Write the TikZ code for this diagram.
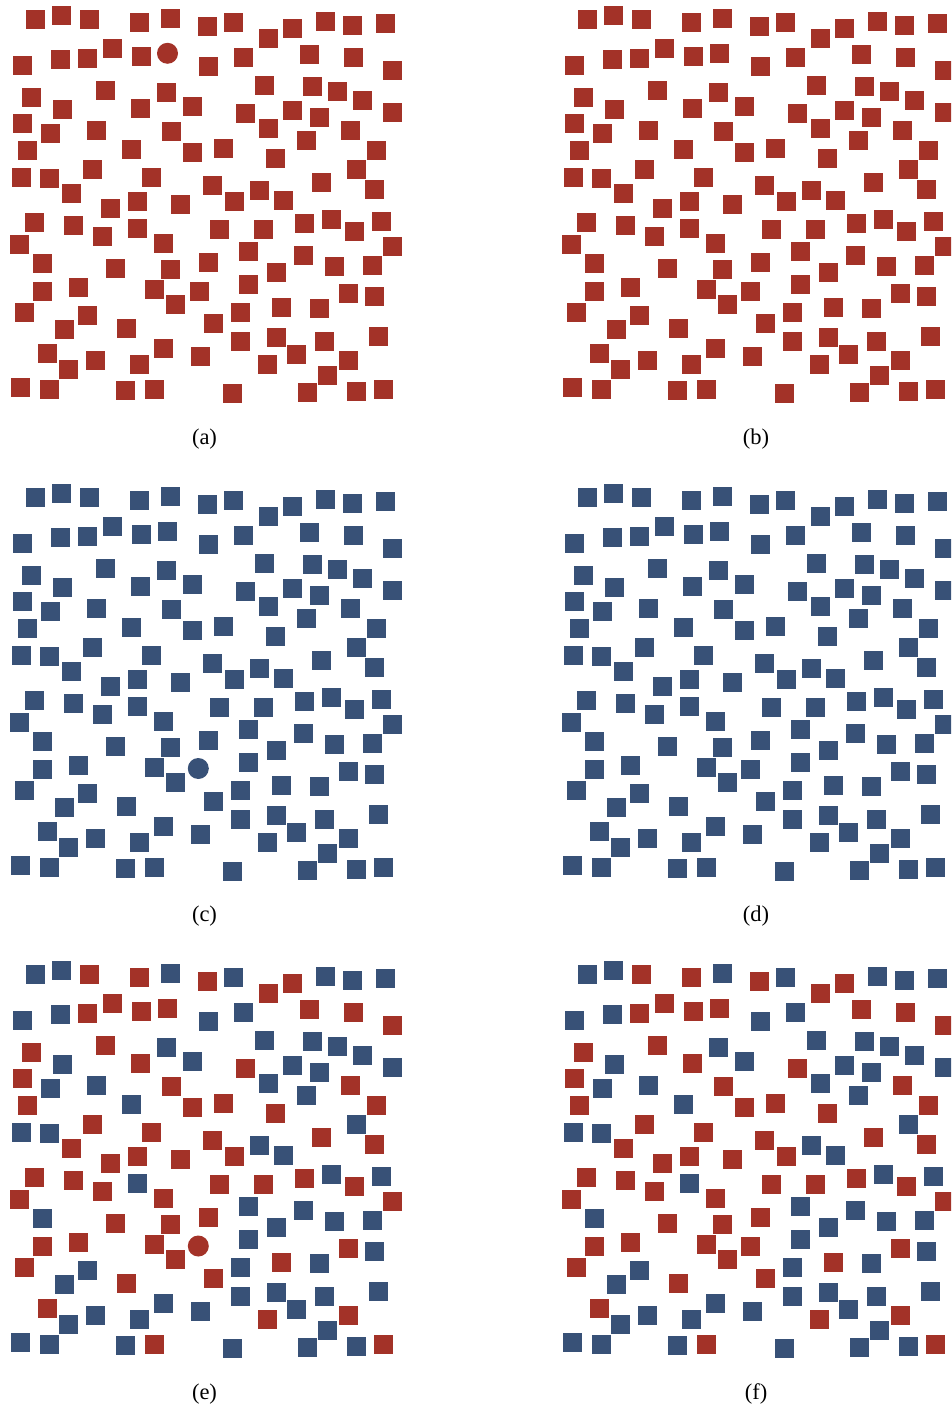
\documentclass[tikz,border=0pt]{standalone}
\usepackage{fontspec}
\setmainfont{Liberation Serif}
\definecolor{R}{RGB}{163,50,40}
\definecolor{B}{RGB}{56,81,119}
\newcommand\sqlist{35.5/19.5/B, 61.5/15.5/B, 89.5/19.5/R, 139.5/22.5/R, 170.5/18.5/B, 207.5/26.5/R, 233.5/22.5/B, 268.5/38.5/R, 292.5/28.5/R, 325.5/21.5/B, 352.5/25.5/B, 385.5/23.5/B,
22.5/65.5/B, 60.5/59.5/B, 87.5/58.5/R, 112.5/48.5/R, 141.5/56.5/R, 167.5/53.5/R, 208.5/66.5/B, 243.5/57.5/B, 309.5/54.5/R, 353.5/57.5/R, 392.5/70.5/R,
31.5/97.5/R, 105.5/90.5/R, 166.5/92.5/B, 192.5/106.5/B, 62.5/109.5/B, 140.5/108.5/R, 264.5/85.5/B, 312.5/86.5/B, 337.5/91.5/B, 362.5/100.5/B,
22.5/123.5/R, 50.5/133.5/B, 96.5/130.5/B, 171.5/131.5/R, 245.5/113.5/R, 292.5/110.5/B, 319.5/117.5/B, 392.5/112.5/B, 268.5/128.5/B, 350.5/130.5/R,
131.5/149.5/B, 27.5/150.5/R, 192.5/152.5/R, 306.5/140.5/B, 223.5/148.5/R, 275.5/158.5/R, 376.5/150.5/R,
21.5/177.5/B, 49.5/178.5/B, 92.5/169.5/R, 151.5/177.5/R, 212.5/185.5/R, 356.5/169.5/B, 71.5/193.5/R, 234.5/201.5/R, 259.5/190.5/B, 283.5/200.5/B, 321.5/182.5/R, 374.5/189.5/R,
110.5/208.5/R, 137.5/201.5/R, 180.5/204.5/R,
34.5/222.5/R, 73.5/225.5/R, 102.5/236.5/R, 137.5/228.5/B, 163.5/243.5/R, 19.5/244.5/R, 42.5/263.5/B, 115.5/268.5/R, 170.5/269.5/R, 208.5/262.5/R,
42.5/291.5/R, 78.5/287.5/R, 154.5/289.5/R, 175.5/304.5/R, 199/291.5/R, 24.5/312.5/R, 213.5/323.5/R, 87.5/315.5/B, 64.5/329.5/B, 126.5/328.5/R,
47.5/353.5/R, 163.5/348.5/B, 200.5/356.5/B, 68.5/369.5/B, 95.5/360.5/B, 139.5/364.5/B, 20.5/387.5/B, 49.5/389.5/B, 125.5/390.5/B, 154.5/389.5/R,
219.5/229.5/R, 263.5/229.5/R, 304.5/223.5/R, 331.5/219.5/B, 354.5/231.5/R, 381.5/221.5/B, 392.5/246.5/R,
248.5/251.5/B, 303.5/255.5/B, 334.5/266.5/B, 372.5/265.5/B, 276.5/272.5/B, 248.5/284.5/B, 348.5/293.5/R, 374.5/296.5/B,
281.5/307.5/R, 319.5/308.5/B, 240.5/312.5/B, 240.5/341.5/B, 276.5/337.5/B, 324.5/341.5/B, 378.5/336.5/B, 296.5/354.5/B,
267.5/364.5/R, 348.5/360.5/R, 327.5/375.5/B, 232.5/393.5/B, 307.5/392.5/B, 356.5/391.5/B, 383.5/389.5/R}
% #1 dx, #2 dy, #3 colour, #4 index left out (circle)
\newcommand\drawpanel[4]{%
  \foreach \x/\y/\c [count=\k] in \sqlist {%
    \ifnum\k=#4\relax\else
      \fill[#3] ({\x+#1-9.5},{\y+#2-9.5}) rectangle ++(19,19);
    \fi
  }}
\begin{document}
\begin{tikzpicture}[x=1pt,y=-1pt,
  lab/.style={anchor=base,inner sep=0pt,font=\fontsize{22.5}{27}\selectfont},
  dot/.style={circle,inner sep=0pt,minimum size=21pt}]
\path[use as bounding box] (0,0) rectangle (951,1407);
\clip (0,0) rectangle (951,1407);
% (a)
\drawpanel{0}{0}{R}{18}
\node[dot,fill=R] (ca) at (167.5,53.3) {};
% (b)
\drawpanel{551.5}{0}{R}{0}
% (c)
\drawpanel{0}{477.5}{B}{80}
\node[dot,fill=B] (cc) at (198.3,768.5) {};
% (d)
\drawpanel{551.5}{477.5}{B}{0}
% (e)
\drawpanel{0}{955}{\c}{80}
\node[dot,fill=R] (ce) at (198.3,1246) {};
% (f)
\drawpanel{551.5}{955}{\c}{0}
% labels
\node[lab] (la) at (204.5,444) {(a)};
\node[lab] (lb) at (756,444) {(b)};
\node[lab] (lc) at (204.5,921.5) {(c)};
\node[lab] (ld) at (756,921.5) {(d)};
\node[lab] (le) at (204.5,1399) {(e)};
\node[lab] (lf) at (756,1399) {(f)};
\end{tikzpicture}
\end{document}
